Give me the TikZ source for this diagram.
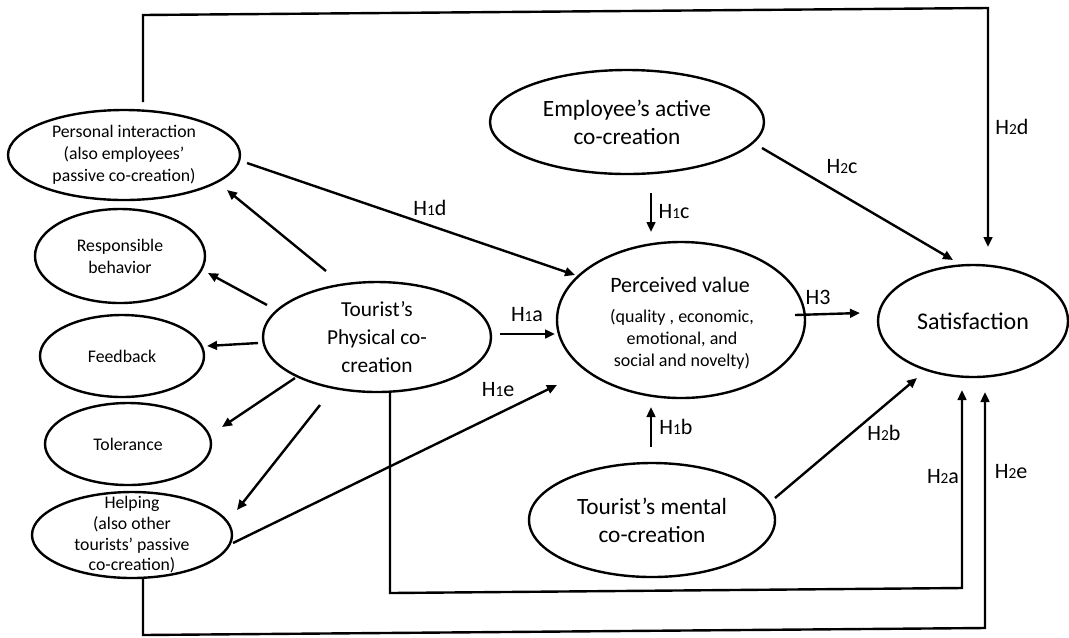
\documentclass[tikz,border=0pt]{standalone}
\usepackage{fontspec}
\setmainfont{Carlito}
\usetikzlibrary{shapes.geometric,arrows.meta}
\newcommand\hsub[1]{{\fontsize{11.5}{11.5}\selectfont #1}}
\begin{document}
\begin{tikzpicture}[x=0.75pt,y=-0.75pt,
  ell/.style={draw, ellipse, line width=1.8pt, inner sep=0pt},
  small/.style={align=center, font=\fontsize{13.3}{16.5}\selectfont},
  mid/.style={align=center, font=\fontsize{16}{21}\selectfont},
  big/.style={align=center, font=\fontsize{17.5}{21}\selectfont},
  hl/.style={font=\fontsize{16.5}{18}\selectfont, inner sep=0pt},
  conn/.style={line width=1.8pt, line join=miter},
  arr/.style={conn, -{Triangle[length=7.5pt, width=6.5pt]}}
]
\useasboundingbox (0,0) rectangle (1069,637);

% ellipses
\node[ell, minimum width=174pt, minimum height=67.5pt,
  label={[small]center:Personal interaction\\(also employees’\\passive co-creation)}] (pi) at (124,155) {};
\node[ell, minimum width=127.5pt, minimum height=70.5pt,
  label={[small]center:Responsible\\behavior}] (rb) at (120,256) {};
\node[ell, minimum width=123pt, minimum height=61.5pt,
  label={[small]center:Feedback}] (fb) at (122,356) {};
\node[ell, minimum width=124.5pt, minimum height=61.5pt,
  label={[small]center:Tolerance}] (tol) at (128,444) {};
\node[ell, minimum width=150pt, minimum height=64.5pt,
  label={[small, font=\fontsize{13.3}{15.5}\selectfont]center:Helping\\(also other\\tourists’ passive\\co-creation)}] (help) at (132,535) {};
\node[ell, minimum width=171pt, minimum height=82.5pt,
  label={[mid]center:Tourist’s\\Physical co-\\creation}] (tp) at (377,337) {};
\node[ell, minimum width=186pt, minimum height=117pt] (pv) at (681,320) {};
\node[font=\fontsize{16.5}{18}\selectfont, inner sep=0pt] (pvt) at (680,285) {Perceived value};
\node[small, font=\fontsize{13.5}{16.5}\selectfont, inner sep=0pt] (pvs) at (682,339) {(quality , economic,\\emotional, and\\social and novelty)};
\node[ell, minimum width=205.5pt, minimum height=78pt,
  label={[big]center:Employee’s active\\co-creation}] (emp) at (627,122) {};
\node[ell, minimum width=184.5pt, minimum height=85.5pt,
  label={[big]center:Tourist’s mental\\co-creation}] (mc) at (652,520) {};
\node[ell, minimum width=142.5pt, minimum height=84pt,
  label={[font=\fontsize{18}{21}\selectfont]center:Satisfaction}] (sat) at (973,321) {};

% connector end points
\coordinate (a1) at (143,102); \coordinate (a2) at (143,15);
\coordinate (a3) at (988,8);   \coordinate (a4) at (988,247);
\coordinate (b1) at (247,163); \coordinate (b2) at (575,275);
\coordinate (c1) at (326,271); \coordinate (c2) at (227,190);
\coordinate (d1) at (267,305); \coordinate (d2) at (208,273);
\coordinate (e1) at (258,343); \coordinate (e2) at (207,346);
\coordinate (f1) at (295,378); \coordinate (f2) at (222,427);
\coordinate (g1) at (320,405); \coordinate (g2) at (237,510);
\coordinate (h1) at (233,543); \coordinate (h2) at (557,385);
\coordinate (i1) at (500,334); \coordinate (i2) at (555,334);
\coordinate (j1) at (651,193); \coordinate (j2) at (651,232);
\coordinate (k1) at (651,447); \coordinate (k2) at (651,407);
\coordinate (m1) at (795,315); \coordinate (m2) at (860,313);
\coordinate (n1) at (762,148); \coordinate (n2) at (953,260);
\coordinate (o1) at (775,498); \coordinate (o2) at (917,378);
\coordinate (p1) at (390,393); \coordinate (p2) at (390,593);
\coordinate (p3) at (962,588); \coordinate (p4) at (962,390);
\coordinate (q1) at (143,578); \coordinate (q2) at (143,635);
\coordinate (q3) at (985,628); \coordinate (q4) at (985,392);

% connectors
\draw[arr] (a1) -- (a2) -- (a3) -- (a4);
\draw[arr] (b1) -- (b2);
\draw[arr] (c1) -- (c2);
\draw[arr] (d1) -- (d2);
\draw[arr] (e1) -- (e2);
\draw[arr] (f1) -- (f2);
\draw[arr] (g1) -- (g2);
\draw[arr] (h1) -- (h2);
\draw[arr] (i1) -- (i2);
\draw[arr] (j1) -- (j2);
\draw[arr] (k1) -- (k2);
\draw[arr] (m1) -- (m2);
\draw[arr] (n1) -- (n2);
\draw[arr] (o1) -- (o2);
\draw[arr] (p1) -- (p2) -- (p3) -- (p4);
\draw[arr] (q1) -- (q2) -- (q3) -- (q4);

% labels
\node[hl] (l1d) at (430,208) {H\hsub{1}d};
\node[hl] (l1a) at (527,315) {H\hsub{1}a};
\node[hl] (l1e) at (498,390) {H\hsub{1}e};
\node[hl] (l1c) at (674,212) {H\hsub{1}c};
\node[hl] (l1b) at (676,427) {H\hsub{1}b};
\node[hl] (l3)  at (818,297) {H3};
\node[hl] (l2c) at (842,167) {H\hsub{2}c};
\node[hl] (l2d) at (1012,127) {H\hsub{2}d};
\node[hl] (l2b) at (884,433) {H\hsub{2}b};
\node[hl] (l2a) at (943,477) {H\hsub{2}a};
\node[hl] (l2e) at (1011,472) {H\hsub{2}e};
\end{tikzpicture}
\end{document}
